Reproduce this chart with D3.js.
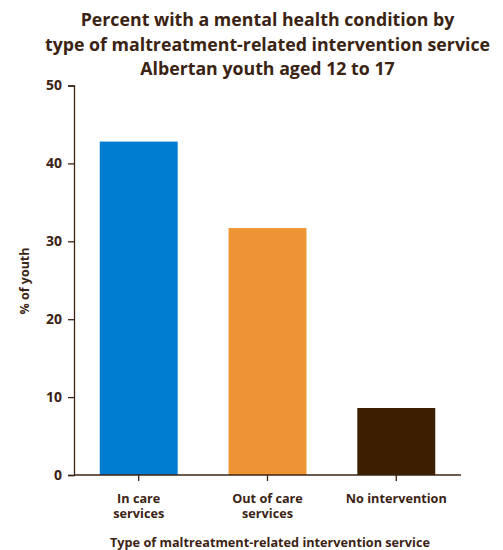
<!DOCTYPE html>
<html><head><meta charset="utf-8">
<script src="https://cdn.jsdelivr.net/npm/d3@7"></script>
<style>body{margin:0;background:#fff}text{font-family:"Open Sans",Lato,sans-serif;font-weight:bold;fill:#3b2314}</style>
</head><body><svg id="c" width="503" height="550"></svg>
<script>
const categories = [["In care","services"],["Out of care","services"],["No intervention"]];
const values = [42.8, 31.7, 8.6];
const colors = ["#007dd0","#ef9434","#3c1f00"];
const yTicks = [0,10,20,30,40,50];
const titleLines = ["Percent with a mental health condition by","type of maltreatment-related intervention service","Albertan youth aged 12 to 17"];
const xTitle = "Type of maltreatment-related intervention service";
const yTitle = "% of youth";

const svg = d3.select("#c");
const ink = "#3b2314";
// fit a text selection's font size so a reference element spans a target width
function fit(sel, refNode, target){
  const base = 20;
  sel.style("font-size", base+"px");
  const w = refNode.getComputedTextLength();
  sel.style("font-size", (base*target/w).toFixed(2)+"px");
}
const x = d3.scaleBand().domain(d3.range(values.length)).range([74,461]).paddingInner(0.395).paddingOuter(0.2);
const y = d3.scaleLinear().domain([0,50]).range([475,85.5]);

const title = svg.selectAll("text.title").data(titleLines).join("text").attr("class","title")
  .attr("x",267.5).attr("y",(d,i)=>26+i*24.5).attr("text-anchor","middle").text(d=>d);
fit(title, title.nodes()[1], 445);

svg.selectAll("rect.bar").data(values).join("rect").attr("class","bar")
  .attr("x",(d,i)=>x(i)).attr("width",x.bandwidth())
  .attr("y",d=>y(d)).attr("height",d=>y(0)-y(d)).attr("fill",(d,i)=>colors[i]);

const ya = svg.append("g").attr("transform","translate(74,0)").call(d3.axisLeft(y).tickValues(yTicks).tickSize(6).tickPadding(6).tickFormat(d3.format("d")));
ya.selectAll("line,path").attr("stroke",ink).attr("stroke-width",1.3);
const yt = ya.selectAll("text").attr("fill",ink);
fit(yt, yt.nodes()[3], 16);

const xa = svg.append("g").attr("transform","translate(0,475)").call(d3.axisBottom(x).tickSize(6).tickFormat(""));
xa.select("path").attr("d","M74,0H461").attr("stroke",ink).attr("stroke-width",1.3);
xa.selectAll("line").attr("stroke",ink).attr("stroke-width",1.3);
xa.selectAll(".tick").each(function(d){
  const t = d3.select(this).append("text").attr("class","cat").attr("text-anchor","middle").attr("fill",ink);
  categories[d].forEach((l,j)=>t.append("tspan").attr("x",0).attr("y",28+j*15).text(l));
});
const cats = xa.selectAll("text.cat");
fit(cats, cats.nodes()[2], 101);

const xt = svg.append("text").attr("x",270).attr("y",547).attr("text-anchor","middle").text(xTitle);
fit(xt, xt.node(), 320);
const ytl = svg.append("text").attr("transform","translate(29,281) rotate(-90)").attr("text-anchor","middle").text(yTitle);
fit(ytl, ytl.node(), 67);
</script></body></html>
